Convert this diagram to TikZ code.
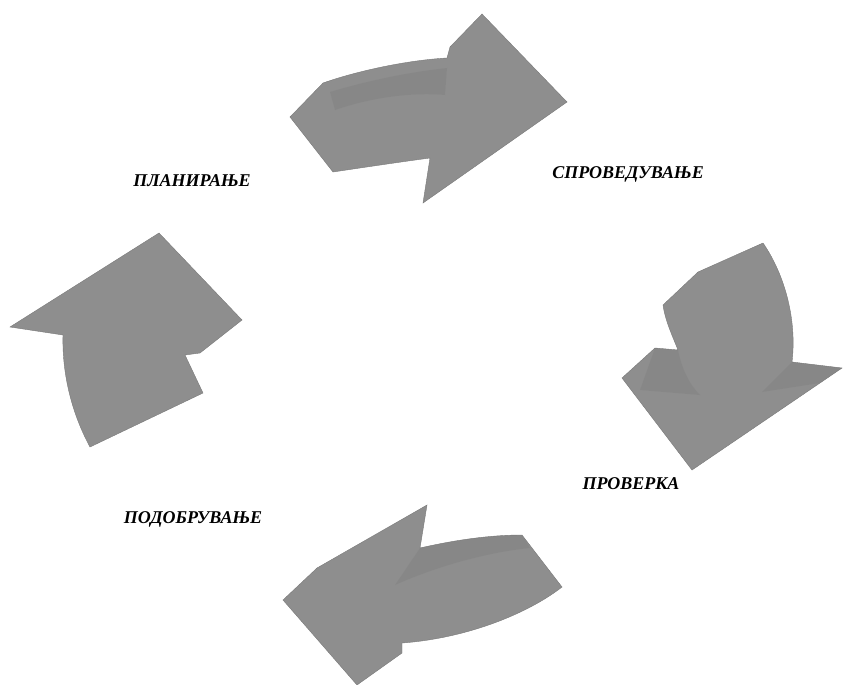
\documentclass[tikz,border=0pt]{standalone}
\usepackage{fontspec}
\setmainfont{Liberation Serif}[BoldItalicFont={Liberation Serif Bold Italic}]
\definecolor{arrowgray}{RGB}{142,142,142}
\definecolor{arrowdark}{RGB}{118,118,118}
\begin{document}
\begin{tikzpicture}[x=1pt,y=-1pt,
  bigarrow/.style={fill=arrowgray,draw=arrowgray!85!black,line width=0.4pt,line join=miter},
  fold/.style={fill=arrowdark,opacity=0.25},
  lbl/.style={font=\fontsize{18}{20}\selectfont\bfseries\itshape,inner sep=0pt}]
\useasboundingbox (0,0) rectangle (843,685);
% top arrow
\path[bigarrow] (290,117) -- (323,83) .. controls (360,70) and (410,60) .. (447,58)
  -- (450,47) -- (482,14) -- (567,102) -- (423,203) -- (430,158)
  .. controls (400,162) and (360,168) .. (333,172) -- cycle;
\path[fold] (330,92) .. controls (370,80) and (410,72) .. (447,68) -- (445,95)
  .. controls (410,92) and (370,98) .. (335,110) -- cycle;
% right arrow
\path[bigarrow] (663,305) -- (698,272) -- (763,243) .. controls (785,275) and (797,320) .. (792,362)
  -- (842,368) -- (692,470) -- (622,378) -- (655,348) -- (678,350)
  .. controls (672,335) and (665,320) .. (663,305) -- cycle;
\path[fold] (792,362) -- (842,368) -- (820,383) -- (762,392) -- cycle;
\path[fold] (655,348) -- (678,350) .. controls (682,370) and (690,385) .. (700,395) -- (640,390) -- cycle;
% left arrow
\path[bigarrow] (10,327) -- (159,233) -- (242,320) -- (200,353) -- (185,355)
  -- (203,393) -- (90,447) .. controls (70,410) and (62,370) .. (63,335) -- cycle;
% bottom arrow
\path[bigarrow] (283,600) -- (317,568) -- (427,505) -- (420,548)
  .. controls (455,540) and (490,535) .. (522,535) -- (562,587)
  .. controls (530,612) and (470,638) .. (402,643) -- (402,653) -- (357,685) -- cycle;
\path[fold] (420,548) .. controls (455,540) and (490,535) .. (522,535) -- (530,548)
  .. controls (490,552) and (440,565) .. (395,585) -- cycle;
% labels
\node[lbl] (plan) at (192,181) {ПЛАНИРАЊЕ};
\node[lbl] (sprov) at (628,174) {СПРОВЕДУВАЊЕ};
\node[lbl] (prov) at (631,484) {ПРОВЕРКА};
\node[lbl] (podob) at (193,519) {ПОДОБРУВАЊЕ};
\end{tikzpicture}
\end{document}
